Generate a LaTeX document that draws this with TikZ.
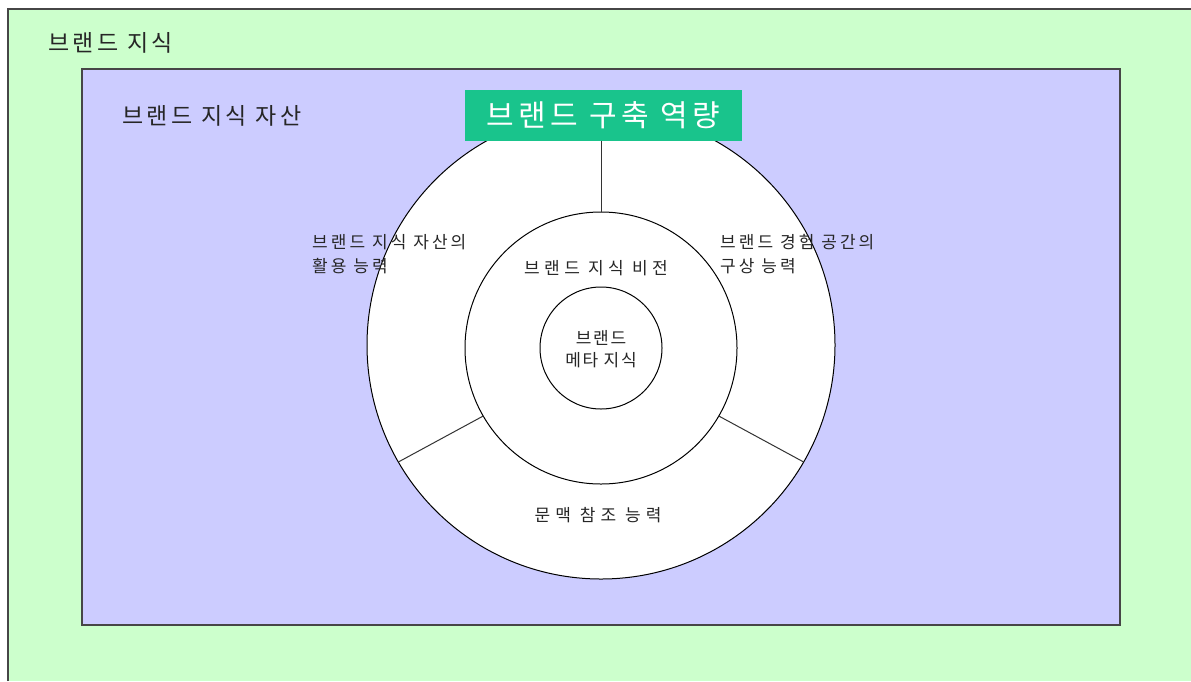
\documentclass[tikz,border=0pt]{standalone}
\usepackage{fontspec}
\newfontfamily\kr{Noto Sans CJK KR}
\newfontfamily\krA{Noto Sans CJK KR}[LetterSpace=15]
\newfontfamily\krB{Noto Sans CJK KR}[LetterSpace=18]
\newfontfamily\krC{Noto Sans CJK KR}[LetterSpace=26]
\newfontfamily\krD{Noto Sans CJK KR}[LetterSpace=30]
\newfontfamily\krE{Noto Sans CJK KR}[LetterSpace=10]
\definecolor{bgGreen}{RGB}{204,255,204}
\definecolor{bgBlue}{RGB}{204,204,255}
\definecolor{capGreen}{RGB}{25,196,140}
\definecolor{edge}{RGB}{70,70,70}
\tikzset{
  ring/.style={circle, draw=black, line width=1pt, fill=white, inner sep=0pt, outer sep=0pt},
  lbl/.style={inner sep=0pt, align=left, text=black!85},
  big/.style={font=\krA\fontsize{23}{28}\selectfont, inner sep=0pt, text=black!85},
  divider/.style={line width=1pt, draw=black!80}
}
\begin{document}
\begin{tikzpicture}[x=1pt,y=-1pt]
\useasboundingbox (0,0) rectangle (1191,681);
\fill[white] (0,0) rectangle (1191,681);
% outer green area
\fill[bgGreen] (8,9) rectangle (1191,681);
\draw[edge, line width=1.2pt] (8,681) -- (8,9) -- (1191,9);
\node[big, anchor=west] (knowledge) at (48,43) {브랜드 지식};
% inner blue rect
\draw[edge, line width=1.2pt, fill=bgBlue] (82,69) rectangle (1120,625);
\node[big, anchor=west] (assets) at (122,116) {브랜드 지식 자산};
% circles
\node[ring, minimum size=468pt] (outer) at (601,345) {};
\node[ring, minimum size=272pt] (mid) at (601,348) {};
\node[ring, minimum size=122pt] (core) at (601,348) {};
% capability box
\node[fill=capGreen, minimum width=277pt, minimum height=51pt, inner sep=0pt,
      font=\krA\fontsize{30}{36}\selectfont, text=white] (cap) at (603.5,115.5) {브랜드 구축 역량};
% connectors
\draw[divider] (cap.south -| mid.north) -- (mid.north);
\draw[divider] (mid.210) -- (outer.210);
\draw[divider] (mid.330) -- (outer.330);
% labels
\node[lbl, font=\krB\fontsize{17}{24}\selectfont, anchor=north west] (use) at (312,234) {브랜드 지식 자산의\\활용 능력};
\node[lbl, font=\krB\fontsize{17}{24}\selectfont, anchor=north west] (space) at (720,234) {브랜드 경험 공간의\\구상 능력};
\node[lbl, font=\krC\fontsize{17}{22}\selectfont] (vision) at (596,268) {브랜드 지식 비전};
\node[lbl, font=\krE\fontsize{17}{22}\selectfont, align=center] (meta) at (601,349) {브랜드\\메타 지식};
\node[lbl, font=\krD\fontsize{17}{22}\selectfont] (context) at (598,515) {문맥 참조 능력};
\end{tikzpicture}
\end{document}
